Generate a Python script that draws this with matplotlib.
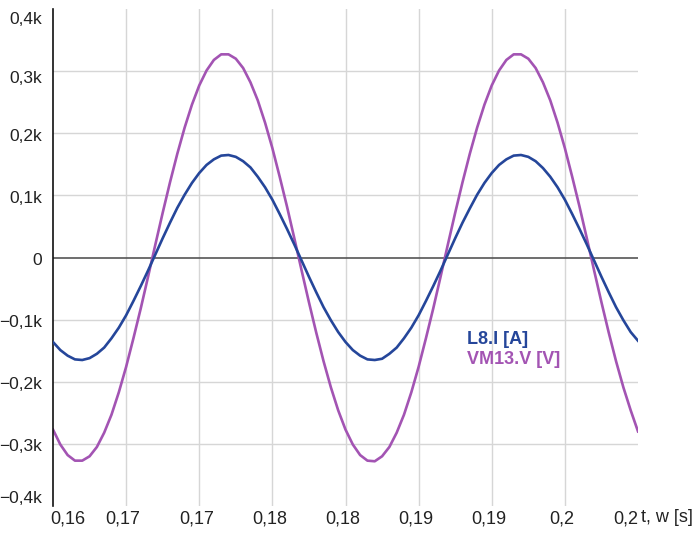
"""
plot.py

Transient run, two mains periods: L8 current and VM13 voltage.
Values were read off the simulator plot, sampled every 0.5 ms.
"""

import matplotlib
matplotlib.use("Agg")  # no display needed
import matplotlib.pyplot as plt
from matplotlib.transforms import ScaledTranslation
import numpy as np


TIME_MS = [
    160.0, 160.5, 161.0, 161.5, 162.0, 162.5, 163.0, 163.5, 164.0, 164.5,
    165.0, 165.5, 166.0, 166.5, 167.0, 167.5, 168.0, 168.5, 169.0, 169.5,
    170.0, 170.5, 171.0, 171.5, 172.0, 172.5, 173.0, 173.5, 174.0, 174.5,
    175.0, 175.5, 176.0, 176.5, 177.0, 177.5, 178.0, 178.5, 179.0, 179.5,
    180.0, 180.5, 181.0, 181.5, 182.0, 182.5, 183.0, 183.5, 184.0, 184.5,
    185.0, 185.5, 186.0, 186.5, 187.0, 187.5, 188.0, 188.5, 189.0, 189.5,
    190.0, 190.5, 191.0, 191.5, 192.0, 192.5, 193.0, 193.5, 194.0, 194.5,
    195.0, 195.5, 196.0, 196.5, 197.0, 197.5, 198.0, 198.5, 199.0, 199.5,
    200.0,
]

# L8.I [A]
L8_I = [
    -136, -149, -158, -164, -165, -162, -155, -145, -130, -113,
    -93, -70, -46, -21, 5, 31, 56, 80, 101, 120,
    136, 149, 158, 164, 165, 162, 155, 145, 130, 113,
    93, 70, 46, 21, -5, -31, -56, -80, -101, -120,
    -136, -149, -158, -164, -165, -163, -155, -145, -130, -113,
    -93, -70, -46, -21, 5, 31, 56, 79, 101, 120,
    136, 149, 158, 164, 165, 162, 155, 144, 130, 113,
    93, 70, 46, 21, -5, -31, -56, -80, -101, -120,
    -134,
]

# VM13.V [V]
VM13_V = [
    -277, -301, -318, -327, -327, -320, -305, -282, -253, -217,
    -176, -130, -82, -31, 21, 72, 121, 167, 209, 246,
    277, 301, 318, 327, 327, 320, 305, 282, 253, 217,
    176, 130, 82, 31, -21, -72, -121, -167, -209, -246,
    -277, -301, -318, -327, -328, -320, -305, -282, -253, -217,
    -176, -130, -82, -31, 21, 72, 121, 167, 209, 246,
    277, 301, 318, 327, 327, 320, 305, 282, 253, 217,
    176, 130, 82, 31, -21, -72, -121, -167, -209, -246,
    -280,
]

X_TICKS = [0.16, 0.165, 0.17, 0.175, 0.18, 0.185, 0.19, 0.195, 0.2]
X_TICK_LABELS = ["0,16", "0,17", "0,17", "0,18", "0,18", "0,19", "0,19", "0,2", "0,2"]
Y_TICKS = [-400, -300, -200, -100, 0, 100, 200, 300, 400]
Y_TICK_LABELS = ["\u22120,4k", "\u22120,3k", "\u22120,2k", "\u22120,1k", "0",
                 "0,1k", "0,2k", "0,3k", "0,4k"]

BLUE = "#25469a"
PURPLE = "#a354b3"
GRID = "#d6d6d6"
TEXT = "#222222"

W, H = 700, 534


def shift(label, fig, dx_px=0.0, dy_px=0.0):
    # nudge a tick label by a few pixels
    off = ScaledTranslation(dx_px / 100, dy_px / 100, fig.dpi_scale_trans)
    label.set_transform(label.get_transform() + off)


def main() -> None:
    plt.rcParams["font.family"] = ["Liberation Sans", "DejaVu Sans"]
    plt.rcParams["font.size"] = 12

    fig = plt.figure(figsize=(W / 100, H / 100), dpi=100)
    fig.patch.set_facecolor("white")

    # axes box in pixels: x 53..638, y 9..506
    ax = fig.add_axes([53 / W, 1 - 506 / H, 585 / W, 497 / H])

    t = np.array(TIME_MS) / 1000.0
    ax.plot(t, L8_I, color=BLUE, lw=1.9, zorder=3)
    ax.plot(t, VM13_V, color=PURPLE, lw=1.9, zorder=2)

    ax.set_xlim(0.16, 0.2)
    ax.set_ylim(-400, 400)

    # grid only on interior ticks
    for x in X_TICKS[1:-1]:
        ax.axvline(x, color=GRID, lw=1.0, zorder=0)
    for y in Y_TICKS[1:-1]:
        if y == 0:
            continue
        ax.axhline(y, color=GRID, lw=1.0, zorder=0)
    ax.axhline(0, color="#555555", lw=1.2, zorder=1)

    for side in ("top", "right", "bottom"):
        ax.spines[side].set_visible(False)
    ax.spines["left"].set_color("#111111")
    ax.spines["left"].set_linewidth(1.2)

    ax.set_xticks(X_TICKS, X_TICK_LABELS)
    ax.set_yticks(Y_TICKS, Y_TICK_LABELS)
    ax.tick_params(axis="both", length=0, colors=TEXT)
    ax.tick_params(axis="x", pad=3, labelsize=13)
    ax.tick_params(axis="y", pad=8, labelsize=12.5)

    xlabels = ax.get_xticklabels()
    xlabels[0].set_horizontalalignment("left")
    shift(xlabels[0], fig, dx_px=-3)
    xlabels[-1].set_horizontalalignment("right")
    for lab in xlabels[1:-1]:
        shift(lab, fig, dx_px=-3)

    # end labels kept inside the axis height
    ylabels = ax.get_yticklabels()
    ylabels[0].set_verticalalignment("bottom")
    ylabels[-1].set_verticalalignment("top")
    shift(ylabels[-1], fig, dy_px=-3)
    shift(ylabels[-2], fig, dy_px=-6)
    for lab in ylabels[1:-2]:
        shift(lab, fig, dy_px=-1.5)

    fig.text(641 / W, 1 - 518 / H, "t, w [s]", color=TEXT, fontsize=13,
             ha="left", va="center")

    # series names drawn as plain labels inside the plot
    ax.text(0.708, 0.335, "L8.I [A]", transform=ax.transAxes, color=BLUE,
            fontsize=13, fontweight="bold", ha="left", va="center")
    ax.text(0.708, 0.294, "VM13.V [V]", transform=ax.transAxes, color=PURPLE,
            fontsize=13, fontweight="bold", ha="left", va="center")

    plt.savefig("out.png", dpi=100, facecolor="white")
    plt.close(fig)


if __name__ == "__main__":
    main()
